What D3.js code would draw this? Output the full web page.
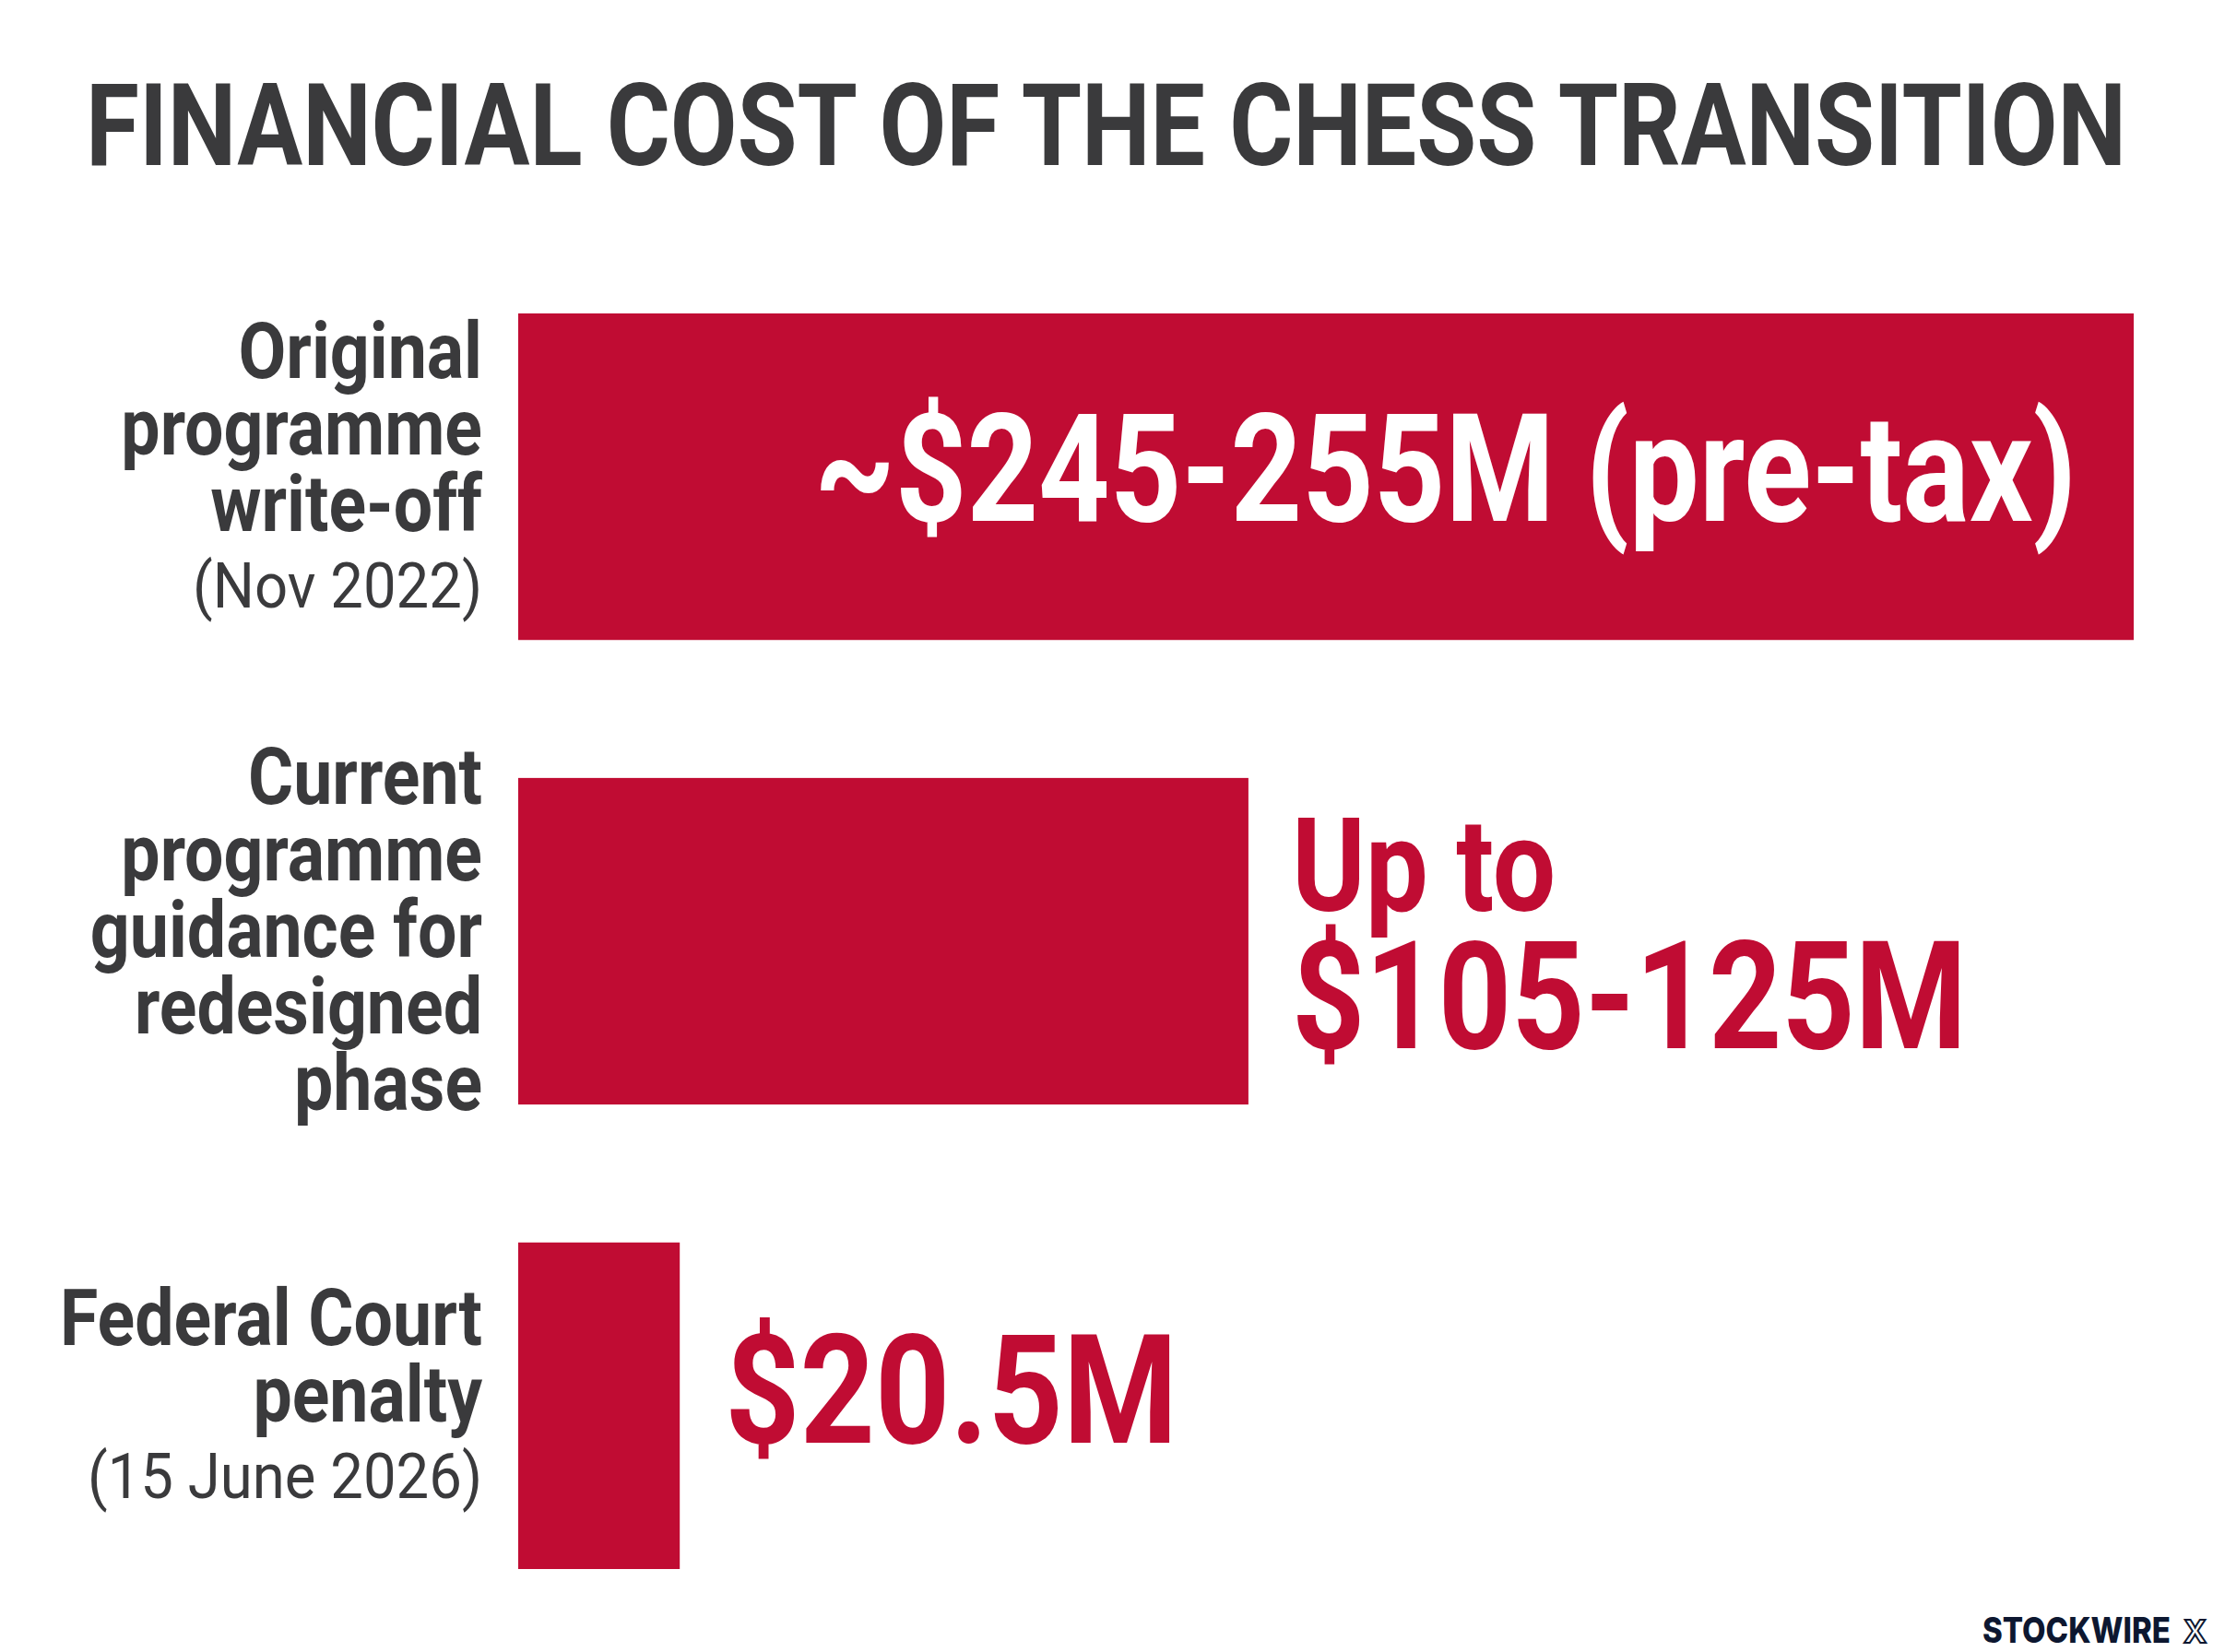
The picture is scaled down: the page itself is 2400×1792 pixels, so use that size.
<!DOCTYPE html>
<html><head><meta charset="utf-8">
<script src="https://cdn.jsdelivr.net/npm/d3@7"></script>
<style>html,body{margin:0;padding:0;background:#ffffff;} svg{display:block;}</style>
</head><body>
<svg id="chart" width="2400" height="1792"></svg>
<script>
// ---------- data ----------
const titleText = "FINANCIAL COST OF THE CHESS TRANSITION";
const categories = ["Original programme write-off", "Current programme guidance", "Federal Court penalty"];
const labelBold = [
  ["Original", "programme", "write-off"],
  ["Current", "programme", "guidance for", "redesigned", "phase"],
  ["Federal Court", "penalty"]
];
const labelNote = ["(Nov 2022)", null, "(15 June 2026)"];
// bar lengths as drawn in the picture ($M)
const barValues = [250, 113, 25];
const valueLines = [["~$245-255M (pre-tax)"], ["Up to", "$105-125M"], ["$20.5M"]];
const brand = "STOCKWIRE";

// ---------- styles ----------
const W = 2400, H = 1792;
const red = "#C00C33", ink = "#3a3a3c", navy = "#0d1730";
const condense = 0.86;

const svg = d3.select("#chart");
svg.append("rect").attr("width", W).attr("height", H).attr("fill", "#ffffff");

// title
svg.append("text")
  .attr("x", 93).attr("y", 179)
  .attr("font-family", "Roboto, 'Liberation Sans', sans-serif")
  .attr("font-weight", 700).attr("font-size", 124)
  .attr("fill", ink)
  .attr("textLength", 2213).attr("lengthAdjust", "spacingAndGlyphs")
  .text(titleText);

// scales
const x = d3.scaleLinear().domain([0, d3.max(barValues)]).range([562, 2314]);
const y = d3.scaleBand().domain(categories).range([340, 1702]).paddingInner(0.297).paddingOuter(0);

const rows = categories.map((c, i) => ({
  cat: c, value: barValues[i], bold: labelBold[i], note: labelNote[i], vals: valueLines[i]
}));

// bars
svg.append("g").selectAll("rect").data(rows).join("rect")
  .attr("x", x(0))
  .attr("y", d => y(d.cat))
  .attr("width", d => x(d.value) - x(0))
  .attr("height", y.bandwidth())
  .attr("fill", red);

// helper: condensed text
function ctext(parent, px, py, str, opts) {
  const g = parent.append("g").attr("transform", `translate(${px},${py}) scale(${opts.sx || condense},1)`);
  return g.append("text")
    .attr("x", 0).attr("y", 0)
    .attr("text-anchor", opts.anchor || "start")
    .attr("font-family", "Roboto, 'Liberation Sans', sans-serif")
    .attr("font-weight", opts.weight || 700)
    .attr("font-size", opts.size)
    .attr("fill", opts.fill)
    .text(str);
}

// category labels
const lineStep = 83;
const labelX = 523;
const lg = svg.append("g");
rows.forEach(d => {
  const lines = d.bold.map(t => ({t, bold: true}));
  if (d.note) lines.push({t: d.note, bold: false});
  const cy = y(d.cat) + y.bandwidth() / 2;
  const first = cy - (lines.length - 1) * lineStep / 2 + 17;
  lines.forEach((ln, j) => {
    ctext(lg, labelX, first + j * lineStep, ln.t, {
      anchor: "end",
      weight: ln.bold ? 700 : 400,
      size: ln.bold ? 85 : 69,
      sx: ln.bold ? 0.885 : 0.92,
      fill: ink
    });
  });
});

// value labels
const vg = svg.append("g");
const maxV = d3.max(barValues);
rows.forEach(d => {
  const cy = y(d.cat) + y.bandwidth() / 2;
  if (d.value === maxV) {
    ctext(vg, x(d.value) - 62, cy + 48, d.vals[0], {anchor: "end", size: 163, fill: "#ffffff", sx: 0.83});
  } else if (d.vals.length === 2) {
    ctext(vg, x(d.value) + 47, cy - 33, d.vals[0], {size: 141, fill: red});
    ctext(vg, x(d.value) + 47, cy + 116, d.vals[1], {size: 163, fill: red, sx: 0.85});
  } else {
    ctext(vg, x(d.value) + 49, cy + 40, d.vals[0], {size: 165, fill: red});
  }
});

// brand
svg.append("text")
  .attr("x", 2150).attr("y", 1782)
  .attr("font-family", "Inter, 'Open Sans', sans-serif")
  .attr("font-weight", 800).attr("font-size", 38)
  .attr("fill", navy)
  .attr("textLength", 204).attr("lengthAdjust", "spacingAndGlyphs")
  .text(brand);
svg.append("text")
  .attr("x", 2368).attr("y", 1782)
  .attr("font-family", "Inter, 'Open Sans', sans-serif")
  .attr("font-weight", 700).attr("font-size", 34)
  .attr("fill", "#ffffff").attr("stroke", navy).attr("stroke-width", 2)
  .text("X");
</script>
</body></html>
